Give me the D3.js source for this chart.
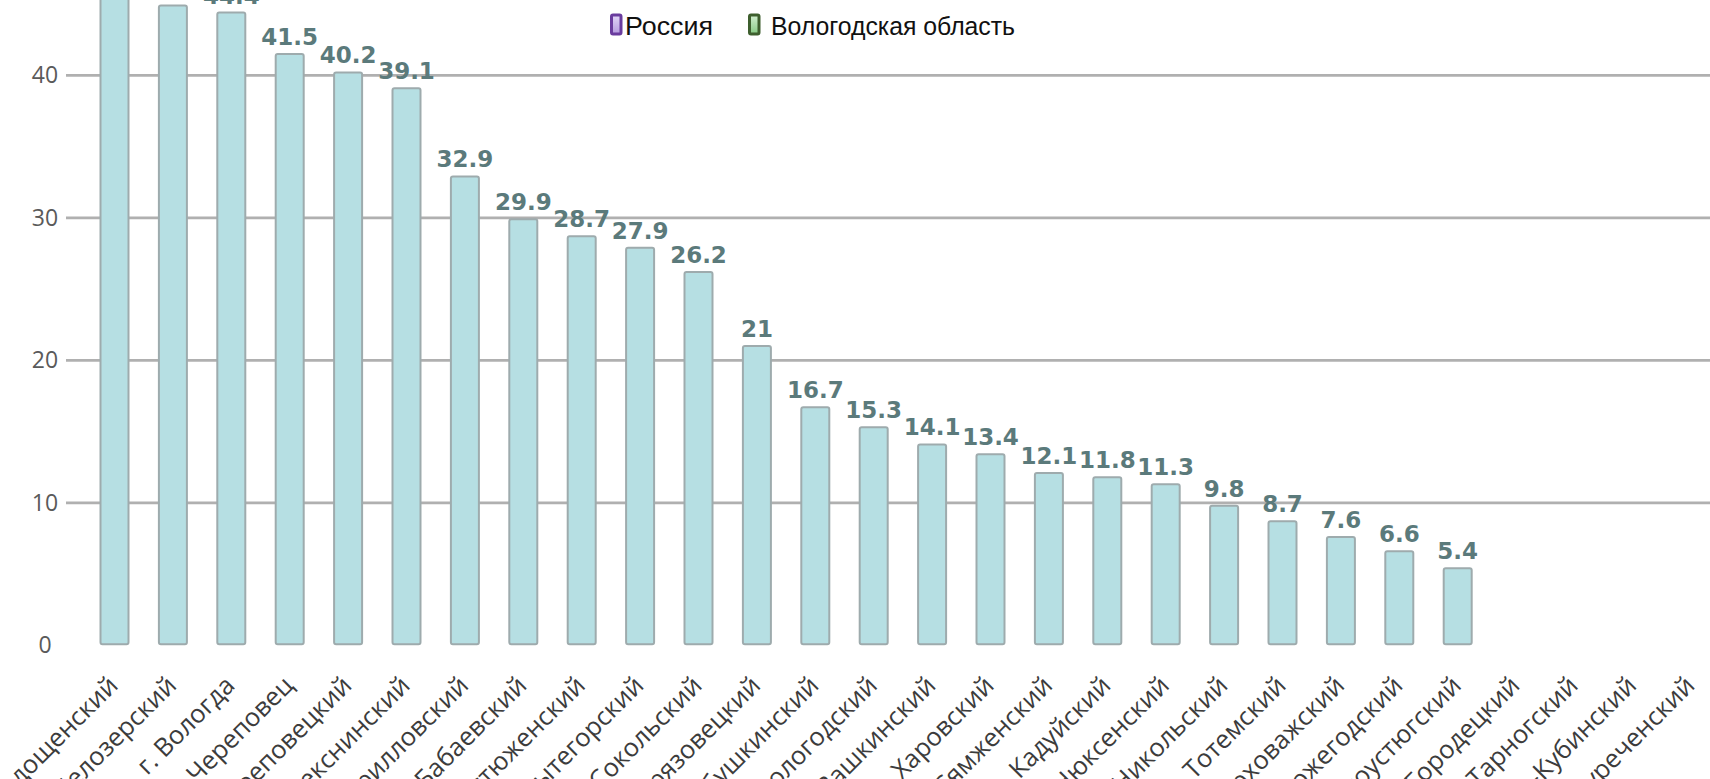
<!DOCTYPE html>
<html><head><meta charset="utf-8">
<script src="https://cdn.jsdelivr.net/npm/d3@7"></script>
<style>html,body{margin:0;padding:0;background:#fff;overflow:hidden}</style>
</head><body>
<svg id="chart" width="1710" height="779"></svg>
<script>
const categories = ["Чагодощенский","Белозерский","г. Вологда","г. Череповец","Череповецкий","Шекснинский","Кирилловский","Бабаевский","Устюженский","Вытегорский","Сокольский","Грязовецкий","Бабушкинский","Вологодский","Вашкинский","Харовский","Сямженский","Кадуйский","Нюксенский","Никольский","Тотемский","Верховажский","Вожегодский","Великоустюгский","Кичменгско-Городецкий","Тарногский","Усть-Кубинский","Междуреченский"];
const values = [48.6,44.9,44.4,41.5,40.2,39.1,32.9,29.9,28.7,27.9,26.2,21,16.7,15.3,14.1,13.4,12.1,11.8,11.3,9.8,8.7,7.6,6.6,5.4,null,null,null,null];
const yTicks = [0,10,20,30,40,50];
const legendItems = ["Россия","Вологодская область"];

const svg = d3.select("#chart");
const defs = svg.append("defs");
const gradDefs = [["gPurple","#b49ade","#e2d6f7"],["gGreen","#86c983","#d2efd0"]];
gradDefs.forEach(([id,c1,c2])=>{
  const g = defs.append("linearGradient").attr("id",id).attr("x1",0).attr("y1",1).attr("x2",0).attr("y2",0);
  g.append("stop").attr("offset","0%").attr("stop-color",c1);
  g.append("stop").attr("offset","100%").attr("stop-color",c2);
});

const step = 58.4;
const x = d3.scaleBand().domain(categories)
  .range([114.5 - step/2, 114.5 - step/2 + step*categories.length])
  .paddingInner(0.5).paddingOuter(0.25);
const y = d3.scaleLinear().domain([0,50]).range([645.3, 645.3 - 14.25*50]);

// gridlines
const gridX0 = 66, gridX1 = 1710;
svg.append("g").selectAll("line").data(yTicks.filter(d=>d>0)).join("line")
  .attr("x1",gridX0).attr("x2",gridX1)
  .attr("y1",d=>y(d)).attr("y2",d=>y(d))
  .attr("stroke","#b0b0b0").attr("stroke-width",2.8);

// y axis labels
const yAxis = d3.axisLeft(y).tickValues(yTicks).tickSize(0).tickPadding(0);
const ya = svg.append("g").attr("transform","translate(45,0)").call(yAxis);
ya.select(".domain").remove();
ya.selectAll("text").attr("text-anchor","middle")
  .attr("font-family","'Open Sans', sans-serif").attr("font-size",23)
  .attr("fill","#5a5a5a");

// bars
const data = categories.map((c,i)=>({c, v: values[i]})).filter(d=>d.v!==null);
const bw = 28;
svg.append("g").selectAll("rect").data(data).join("rect")
  .attr("x",d=>x(d.c)+x.bandwidth()/2-bw/2).attr("width",bw)
  .attr("y",d=>y(d.v)).attr("height",d=>y(0)-y(d.v)-1)
  .attr("rx",2)
  .attr("fill","#b6dfe3").attr("stroke","#9eabad").attr("stroke-width",2);

// value labels
svg.append("g").selectAll("text").data(data).join("text")
  .attr("x",d=>x(d.c)+x.bandwidth()/2).attr("y",d=>y(d.v)-9)
  .attr("text-anchor","middle")
  .attr("font-family","'DejaVu Sans', sans-serif").attr("font-weight","bold")
  .attr("font-size",23).attr("fill","#5b7a7b")
  .text(d=>d.v);

// x axis labels
const xAxis = d3.axisBottom(x).tickSize(0).tickPadding(0);
const xa = svg.append("g").call(xAxis);
xa.select(".domain").remove();
xa.selectAll(".tick text")
  .attr("text-anchor","end").attr("dy",null).attr("y",null)
  .attr("transform","translate(5,687) rotate(-45)")
  .attr("font-family","'Open Sans', sans-serif").attr("font-size",25.5).attr("fill","#3c3c3c");

// legend
const legX = [610, 748];
const legTX = [15, 23];
const legW = [88, 244];
const legColors = [{stroke:"#6a3c9e",fill:"url(#gPurple)"},{stroke:"#3e5f2e",fill:"url(#gGreen)"}];
const lg = svg.append("g").selectAll("g").data(legendItems).join("g")
  .attr("transform",(d,i)=>`translate(${legX[i]},0)`);
lg.append("rect").attr("x",1.5).attr("y",15).attr("width",9.5).attr("height",19).attr("rx",1.5)
  .attr("fill",(d,i)=>legColors[i].fill).attr("stroke",(d,i)=>legColors[i].stroke).attr("stroke-width",3);
lg.append("text").attr("x",(d,i)=>legTX[i]).attr("y",35)
  .attr("font-family","'Liberation Sans Narrow','Liberation Sans', sans-serif").attr("font-size",26).attr("fill","#111")
  .attr("textLength",(d,i)=>legW[i]).attr("lengthAdjust","spacingAndGlyphs")
  .text(d=>d);
</script>
</body></html>
